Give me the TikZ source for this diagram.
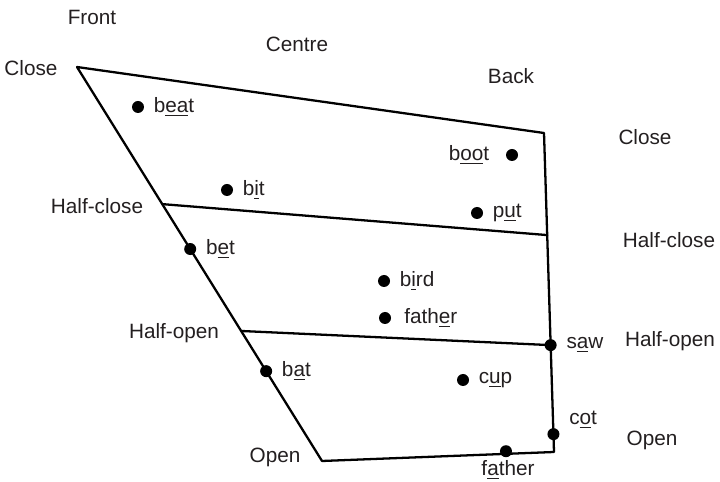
\documentclass[tikz,border=0pt]{standalone}
\usepackage{fontspec}
\setmainfont{Liberation Sans}
\usetikzlibrary{calc}
\definecolor{inkgray}{HTML}{231F20}

\begin{document}
\begin{tikzpicture}[x=0.02cm, y=-0.02cm, line join=round, line cap=round,
	font=\fontsize{11.8}{14}\selectfont, text=inkgray,
	edge/.style={line width=1.3pt},
	vowel/.style={fill=black, circle, inner sep=0pt, minimum size=0.24cm},
	word/.style={inner sep=0pt, right=0.31cm}]
	\useasboundingbox (0,0) rectangle (720,482);
	% Corners of the vowel chart
	\path (77,67) coordinate (FrontClose)
	(544,133) coordinate (BackClose)
	(554,452) coordinate (BackOpen)
	(322,461) coordinate (FrontOpen);
	\draw[edge] (FrontClose) -- (BackClose) -- (BackOpen) -- (FrontOpen) -- cycle;
	% Points on the front and back edges
	\path (FrontClose) -- (FrontOpen) coordinate[pos=0.348] (FrontHC)
	coordinate[pos=0.462] (bet) coordinate[pos=0.67] (FrontHO)
	coordinate[pos=0.772] (bat);
	\path (BackClose) -- (BackOpen) coordinate[pos=0.32] (BackHC)
	coordinate[pos=0.665] (saw) coordinate[pos=0.944] (cot);
	\path (FrontOpen) -- (BackOpen) coordinate[pos=0.793] (fatherB);
	% Half-close and half-open lines
	\draw[edge] (FrontHC) -- (BackHC);
	\draw[edge] (FrontHO) -- (saw);
	% Vowels inside the chart
	\path (138,107) coordinate (beat)
	(227,190) coordinate (bit)
	(384,281) coordinate (bird)
	(385,318) coordinate (fatherM)
	(512,155) coordinate (boot)
	(477,213) coordinate (put)
	(463,380) coordinate (cup);
	% Dots with their words to the right
	\foreach \p/\w/\dy in {beat/b\underline{ea}t/0, bit/b\underline{i}t/0,
		bet/b\underline{e}t/0, bat/b\underline{a}t/0, bird/b\underline{i}rd/0,
		fatherM/{\,fath\underline{e}r}/0, put/p\underline{u}t/0,
		saw/s\underline{a}w/0, cup/c\underline{u}p/0, cot/c\underline{o}t/8}
	{
		\node[vowel] (\p-dot) at (\p) {};
		\node[word, yshift=\dy pt] (\p-word) at (\p) {\w};
	}
	% These two sit elsewhere
	\node[vowel] (boot-dot) at (boot) {};
	\node[inner sep=0pt, left=0.45cm] (boot-word) at (boot) {b\underline{oo}t};
	\node[vowel, yshift=1.5pt] (fatherB-dot) at (fatherB) {};
	\node[inner sep=0pt] (fatherB-word) at (508,470) {f\underline{a}ther};
	% Front, centre and back
	\node (front) at (92,17) {Front};
	\node (centre) at (297,44) {Centre};
	\node (back) at (511,76) {Back};
	% Heights on the left
	\node (closeL) at (31,68) {Close};
	\node (halfcloseL) at (97,206) {Half-close};
	\node (halfopenL) at (174,333) {Half-open};
	\node (openL) at (275,457) {Open};
	% Heights on the right
	\node (closeR) at (645,137) {Close};
	\node (halfcloseR) at (669,240) {Half-close};
	\node (halfopenR) at (670,341) {Half-open};
	\node (openR) at (652,440) {Open};
\end{tikzpicture}
\end{document}
